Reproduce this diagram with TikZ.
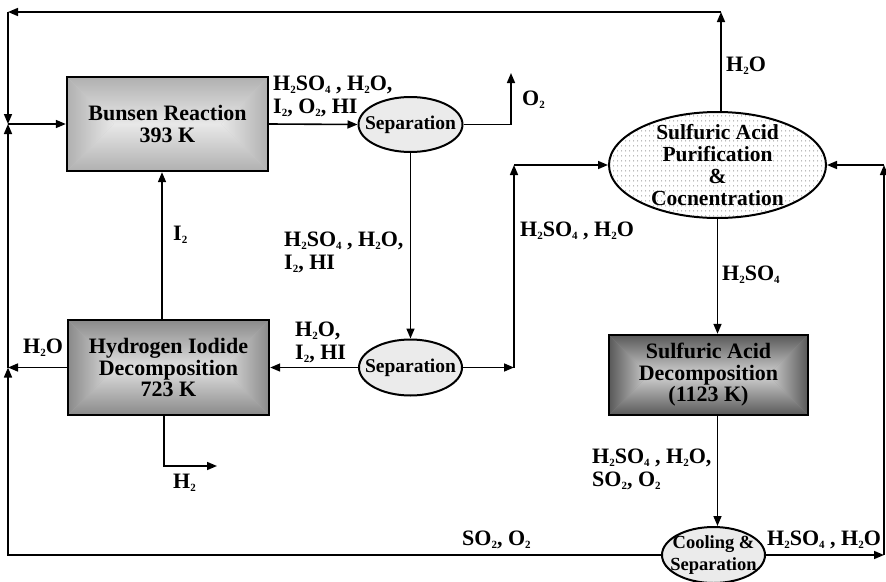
\documentclass[tikz,border=0pt]{standalone}
\usepackage{fontspec}
\setmainfont{Liberation Serif}
\usetikzlibrary{arrows.meta,shapes.geometric,patterns}
\newcommand{\sbs}[1]{\raisebox{-2.8pt}{\fontsize{11}{11}\selectfont #1}}
\pgfdeclarepatternformonly{mydots}{\pgfpointorigin}{\pgfqpoint{4pt}{4.6pt}}{\pgfqpoint{4pt}{4.6pt}}{\pgfpathcircle{\pgfqpoint{2pt}{2.3pt}}{0.75pt}\pgfusepath{fill}}
\begin{document}
\begin{tikzpicture}[x=1pt,y=-1pt,
 arr/.style={line width=1.6pt,-{Triangle[length=10pt,width=8pt]}},
 box/.style={rectangle,draw,line width=2.4pt,align=center,inner sep=0pt,font=\bfseries\fontsize{22}{21.5}\selectfont},
 sepell/.style={ellipse,draw,line width=2pt,fill=black!8,inner sep=0pt},
 elltext/.style={font=\bfseries\fontsize{19.5}{22}\selectfont,align=center,inner sep=0pt},
 lbl/.style={font=\bfseries\fontsize{22}{23}\selectfont,align=left,inner sep=0pt,anchor=north west},
 bevel/.style n args={3}{path picture={
  \coordinate (bvL) at ([xshift=-#3]path picture bounding box.center);
  \coordinate (bvR) at ([xshift=#3]path picture bounding box.center);
  \shade[top color=#1,bottom color=#2] (path picture bounding box.north west) -- (path picture bounding box.north east) -- (bvR) -- (bvL) -- cycle;
  \shade[bottom color=#1,top color=#2] (path picture bounding box.south west) -- (path picture bounding box.south east) -- (bvR) -- (bvL) -- cycle;
  \shade[left color=#1,right color=#2] (path picture bounding box.north west) -- (bvL) -- (path picture bounding box.south west) -- cycle;
  \shade[right color=#1,left color=#2] (path picture bounding box.north east) -- (bvR) -- (path picture bounding box.south east) -- cycle;
 }}
]
\useasboundingbox (0,0) rectangle (886,581);
\clip (0,0) rectangle (886,581);
\fill[white] (0,0) rectangle (886,581);

% main blocks
\node[box,minimum width=201pt,minimum height=94pt,fill=black!20,bevel={black!31}{black!9}{53.5pt}] (bun) at (167.5,124) {Bunsen Reaction\\393 K};
\node[box,minimum width=201pt,minimum height=95pt,fill=black!30,bevel={black!46}{black!12}{53pt}] (hi) at (168.5,367.5) {Hydrogen Iodide\\Decomposition\\723 K};
\node[box,minimum width=199pt,minimum height=80pt,fill=black!42,bevel={black!65}{black!18}{59.5pt}] (dec) at (708.5,375) {Sulfuric Acid\\Decomposition\\(1123 K)};

\node[sepell,minimum width=104pt,minimum height=55pt,label={[elltext]center:Separation}] (sep1) at (410.5,124.5) {};
\node[sepell,minimum width=103pt,minimum height=56pt,label={[elltext]center:Separation}] (sep2) at (410.5,367.5) {};
\node[ellipse,draw,line width=2pt,pattern=mydots,pattern color=black!40,minimum width=217pt,minimum height=106pt,inner sep=0pt,label={[elltext,font=\bfseries\fontsize{21.5}{21.7}\selectfont]center:Sulfuric Acid\\Purification\\\&\\Cocnentration}] (ell) at (717.5,165) {};
\node[sepell,minimum width=103pt,minimum height=56pt,label={[elltext,font=\bfseries\fontsize{18.5}{22}\selectfont]center:Cooling \&\\Separation}] (cool) at (713.5,555) {};

% junctions
\coordinate (jA) at (8,124);
\coordinate (jB) at (8,367.5);
\coordinate (tl) at (8,12);
\coordinate (tr) at (721,12);
\coordinate (o2) at (511,73);
\coordinate (c1) at (514,367.5);
\coordinate (c2) at (514,165);
\coordinate (r1) at (884,555);
\coordinate (r2) at (884,165);
\coordinate (ix) at (162,0);
\coordinate (hx) at (164,466);
\coordinate (h2) at (217,466);

% connectors
\draw[arr] (jA) -- (bun.west);
\draw[arr] (bun.east) -- (sep1.west);
\draw[arr] (sep1.east) -| (o2);
\draw[arr] (sep1.south) -- (sep2.north);
\draw[arr] (sep2.west) -- (hi.east);
\draw[arr] (sep2.east) -- (c1);
\draw[arr] (c1) -- (c2);
\draw[arr] (c2) -- (ell.west);
\draw[arr] (ell.north -| tr) -- (tr);
\draw[arr] (tr) -- (tl);
\draw[arr] (tl) -- (jA);
\draw[arr] (hi.west) -- (jB);
\draw[arr] (cool.west) -| (jB);
\draw[arr] (jB) -- (jA);
\draw[arr] (hi.north -| ix) -- (bun.south -| ix);
\draw[arr] (hi.south -| hx) |- (h2);
\draw[arr] (ell.south) -- (ell.south |- dec.north);
\draw[arr] (dec.south -| ell.south) -- (cool.north -| ell.south);
\draw[arr] (cool.east) -- (r1);
\draw[arr] (r1) -- (r2);
\draw[arr] (r2) -- (ell.east);

% labels
\node[lbl] (l1) at (273,76) {H\sbs{2}SO\sbs{4} , H\sbs{2}O,\\I\sbs{2}, O\sbs{2}, HI};
\node[lbl] (l2) at (522,91) {O\sbs{2}};
\node[lbl] (l3) at (284,232) {H\sbs{2}SO\sbs{4} , H\sbs{2}O,\\I\sbs{2}, HI};
\node[lbl] (l4) at (295,322) {H\sbs{2}O,\\I\sbs{2}, HI};
\node[lbl] (l5) at (520,222) {H\sbs{2}SO\sbs{4} , H\sbs{2}O};
\node[lbl] (l6) at (726,57) {H\sbs{2}O};
\node[lbl] (l7) at (173,226) {I\sbs{2}};
\node[lbl] (l8) at (23,339) {H\sbs{2}O};
\node[lbl] (l9) at (173,474) {H\sbs{2}};
\node[lbl] (l10) at (722,266) {H\sbs{2}SO\sbs{4}};
\node[lbl] (l11) at (592,449) {H\sbs{2}SO\sbs{4} , H\sbs{2}O,\\SO\sbs{2}, O\sbs{2}};
\node[lbl] (l12) at (462,531) {SO\sbs{2}, O\sbs{2}};
\node[lbl] (l13) at (767,531) {H\sbs{2}SO\sbs{4} , H\sbs{2}O};
\end{tikzpicture}
\end{document}
